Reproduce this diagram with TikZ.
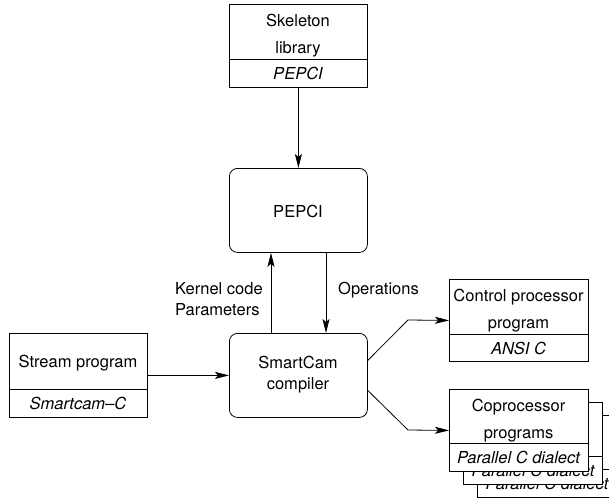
\documentclass[tikz,border=0pt]{standalone}
\usepackage{fontspec}
\setmainfont{TeX Gyre Heros}
\usetikzlibrary{arrows.meta}
\begin{document}
\begin{tikzpicture}[x=1pt,y=-1pt,
  every node/.style={font=\fontsize{16.5}{20}\selectfont, inner sep=0pt},
  box/.style={draw, line width=0.8pt, fill=white, minimum width=138pt, minimum height=83pt, anchor=north west},
  rbox/.style={box, rounded corners=8pt},
  lbl/.style={anchor=base},
  itl/.style={anchor=base, font=\fontsize{16.5}{20}\selectfont\itshape},
  ln/.style={line width=0.8pt},
  arr/.style={ln, -{Stealth[length=14pt,width=7pt,inset=3pt]}}]
\useasboundingbox (0,0) rectangle (609,499);

% Skeleton library
\node[box] (skel) at (229,4) {};
\draw[ln] ([yshift=-55pt]skel.north west) -- ([yshift=-55pt]skel.north east);
\node[lbl] (skelA) at (298,26) {Skeleton};
\node[lbl] (skelB) at (298,53) {library};
\node[itl] (skelC) at (298,79) {PEPCI};

% PEPCI
\node[rbox, minimum height=84pt] (pepci) at (229,168) {};
\node[lbl] (pepciT) at (298,217) {PEPCI};

% SmartCam compiler
\node[rbox, minimum height=84pt] (smart) at (229,333) {};
\node[lbl] (smartA) at (298,368) {SmartCam};
\node[lbl] (smartB) at (298,389) {compiler};

% Stream program
\node[box, minimum height=84pt] (stream) at (9,333) {};
\draw[ln] ([yshift=-56pt]stream.north west) -- ([yshift=-56pt]stream.north east);
\node[lbl] (streamA) at (78,367) {Stream program};
\node[itl] (streamB) at (78,409) {Smartcam--C};

% Labels
\node[anchor=base west] (kern) at (175,294) {Kernel code};
\node[anchor=base west] (param) at (175,315) {Parameters};
\node[anchor=base west] (ops) at (338,294) {Operations};

% Control processor program
\node[box, minimum width=139pt, minimum height=82pt] (ctrl) at (449,279) {};
\draw[ln] ([yshift=-55pt]ctrl.north west) -- ([yshift=-55pt]ctrl.north east);
\node[lbl] (ctrlA) at (518.5,301) {Control processor};
\node[lbl] (ctrlB) at (518.5,328) {program};
\node[itl] (ctrlC) at (518.5,354) {ANSI C};

% Coprocessor programs (stack)
\node[box, minimum width=139pt, minimum height=82pt] (cop3) at (477,415) {};
\draw[ln] ([yshift=-54pt]cop3.north west) -- ([yshift=-54pt]cop3.north east);
\node[itl] (cop3T) at (547,489) {Parallel C dialect};

\node[box, minimum width=139pt, minimum height=82pt] (cop2) at (463,402) {};
\draw[ln] ([yshift=-54pt]cop2.north west) -- ([yshift=-54pt]cop2.north east);
\node[itl] (cop2T) at (533,476) {Parallel C dialect};

\node[box, minimum width=139pt, minimum height=82pt] (cop) at (449,389) {};
\draw[ln] ([yshift=-54pt]cop.north west) -- ([yshift=-54pt]cop.north east);
\node[lbl] (copA) at (518.5,411) {Coprocessor};
\node[lbl] (copB) at (518.5,438) {programs};
\node[itl] (copC) at (518.5,463) {Parallel C dialect};

% Connectors
\coordinate (kx) at (271,0);
\coordinate (ox) at (326,0);
\coordinate (bendA) at (408,320);
\coordinate (bendB) at (408,430);
\draw[arr] (skel.south) -- (pepci.north);
\draw[arr] (kx |- smart.north) -- (kx |- pepci.south);
\draw[arr] (ox |- pepci.south) -- (ox |- smart.north);
\draw[arr] (stream.east) -- (smart.west);
\draw[arr] ([yshift=15pt]smart.east) -- (bendA) -- (ctrl.west);
\draw[arr] ([yshift=-15pt]smart.east) -- (bendB) -- (cop.west);
\end{tikzpicture}
\end{document}
